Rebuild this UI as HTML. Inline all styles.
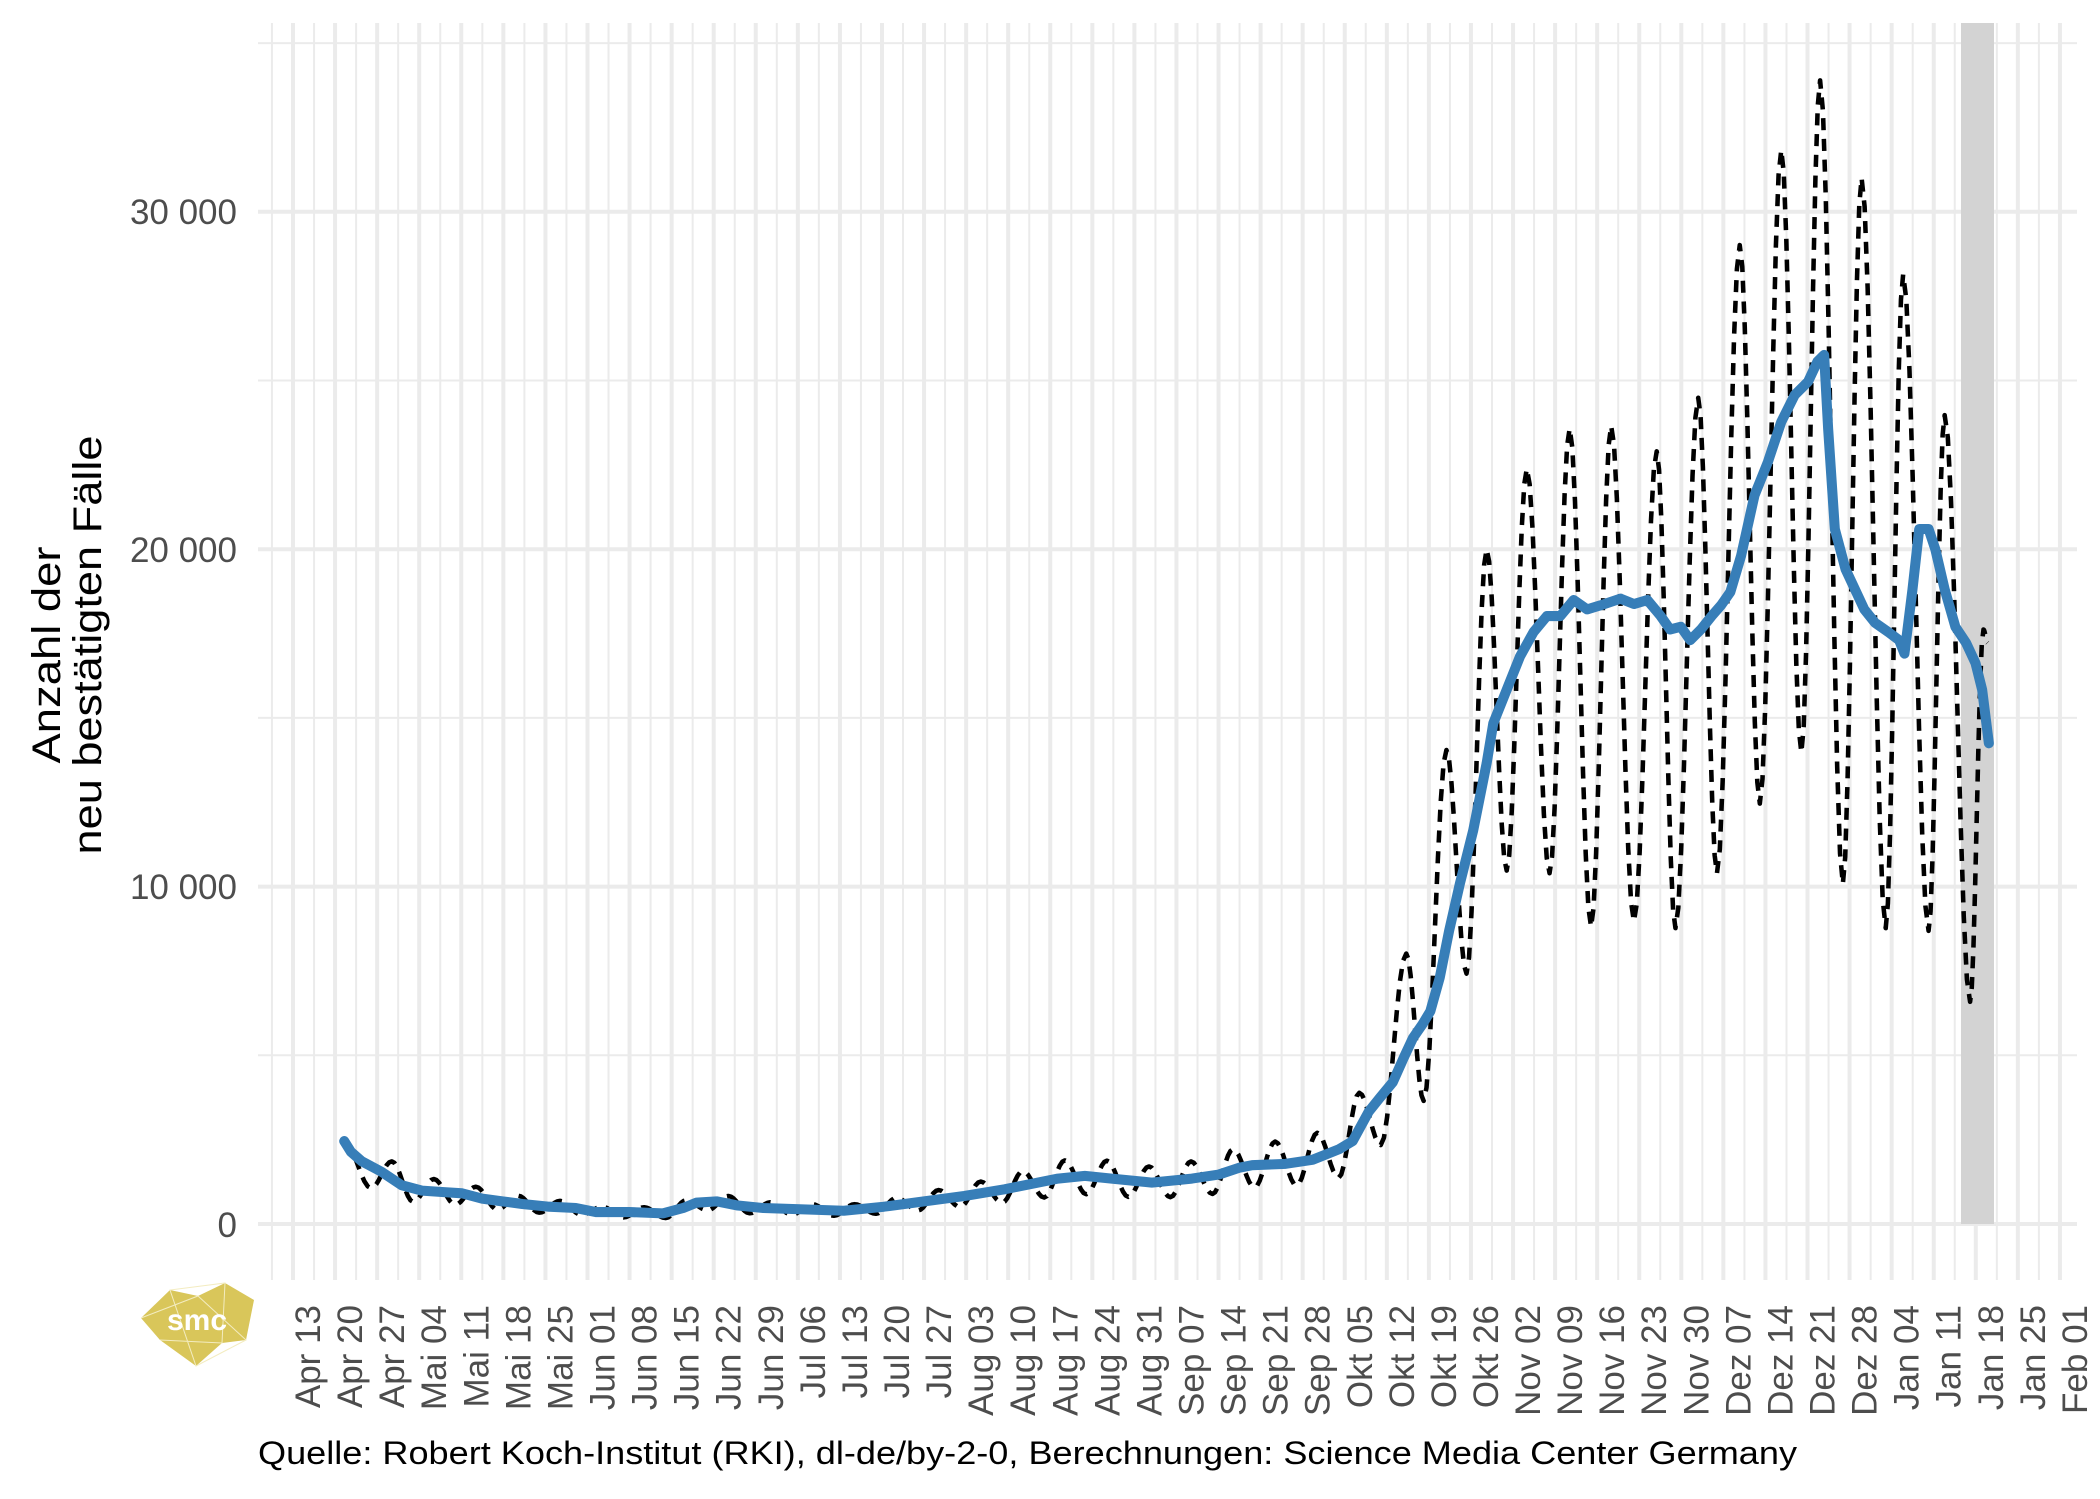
<!DOCTYPE html>
<html><head><meta charset="utf-8"><style>
html,body{margin:0;padding:0;background:#fff;}
svg{display:block;}
</style></head><body>
<svg id="s" xmlns="http://www.w3.org/2000/svg" width="2100" height="1499" viewBox="0 0 2100 1499">
<rect width="2100" height="1499" fill="#fff"/>
<g id="grid"></g>
<rect x="1961" y="23" width="33" height="1201" fill="#d3d3d3"/>
<g transform="scale(1.33929)">
<path id="dash" fill="none" stroke="#000" stroke-width="3.4" stroke-dasharray="9 6.5" stroke-linejoin="round"/>
<path id="blue" fill="none" stroke="#377eb8" stroke-width="7.5" stroke-linejoin="round" stroke-linecap="round"/>
</g>
<g id="labels" font-family="Liberation Sans, sans-serif"></g>
<g font-family="Liberation Sans, sans-serif" font-size="35" fill="#4d4d4d" text-anchor="end">
<text x="237" y="224">30 000</text>
<text x="237" y="899">10 000</text>
<text x="237" y="562">20 000</text>
<text x="237" y="1237">0</text>
</g>
<g font-family="Liberation Sans, sans-serif" font-size="40" fill="#000" text-anchor="middle">
<text transform="translate(60,655) rotate(-90)" textLength="217" lengthAdjust="spacingAndGlyphs">Anzahl der</text>
<text transform="translate(101,645) rotate(-90)" textLength="419" lengthAdjust="spacingAndGlyphs">neu bestätigten Fälle</text>
</g>
<text x="258" y="1464" font-family="Liberation Sans, sans-serif" font-size="32" fill="#000" textLength="1539" lengthAdjust="spacingAndGlyphs">Quelle: Robert Koch-Institut (RKI), dl-de/by-2-0, Berechnungen: Science Media Center Germany</text>
<g>
<polygon points="141,1318 170,1290 198,1296 225,1283 254,1300 246,1340 222,1343 196,1366 160,1340" fill="#d9c65a"/>
<polyline points="141,1318 198,1296 246,1340 196,1366 170,1290 225,1283 222,1343 160,1340" fill="none" stroke="#f3ecc0" stroke-width="1"/>
<text x="197" y="1330" font-family="Liberation Sans, sans-serif" font-size="30" font-weight="bold" fill="#fff" text-anchor="middle">smc</text>
</g>
</svg>
<script>
(function(){
var NS="http://www.w3.org/2000/svg";
var grid=document.getElementById('grid');
function line(x1,y1,x2,y2,w){var l=document.createElementNS(NS,'line');l.setAttribute('x1',x1);l.setAttribute('y1',y1);l.setAttribute('x2',x2);l.setAttribute('y2',y2);l.setAttribute('stroke','#ebebeb');l.setAttribute('stroke-width',w);grid.appendChild(l);}
var y0=1224,k=0.03374;
[5000,15000,25000,35000].forEach(function(v){var y=y0-v*k;line(258,y,2077,y,2);});
[0,10000,20000,30000].forEach(function(v){var y=y0-v*k;line(258,y,2077,y,4);});
var sp=42.07,x0=293;
for(var i=-1;i<42;i++){var x=x0+sp*(i+0.5);if(x>258&&x<2077)line(x,23,x,1280,2);}
for(var i=0;i<=42;i++){var x=x0+sp*i;line(x,23,x,1280,4);}
var labs=["Apr 13","Apr 20","Apr 27","Mai 04","Mai 11","Mai 18","Mai 25","Jun 01","Jun 08","Jun 15","Jun 22","Jun 29","Jul 06","Jul 13","Jul 20","Jul 27","Aug 03","Aug 10","Aug 17","Aug 24","Aug 31","Sep 07","Sep 14","Sep 21","Sep 28","Okt 05","Okt 12","Okt 19","Okt 26","Nov 02","Nov 09","Nov 16","Nov 23","Nov 30","Dez 07","Dez 14","Dez 21","Dez 28","Jan 04","Jan 11","Jan 18","Jan 25","Feb 01"];
var lg=document.getElementById('labels');
labs.forEach(function(s,i){var t=document.createElementNS(NS,'text');var x=x0+sp*i+27;t.setAttribute('transform','translate('+x.toFixed(1)+',1305) rotate(-90)');t.setAttribute('text-anchor','end');t.setAttribute('font-size','35');t.setAttribute('fill','#4d4d4d');t.textContent=s;lg.appendChild(t);});
var B=[[257,852],[262,860],[270,867],[285,875],[300,885],[315,889],[330,890],[345,891],[360,895],[375,897],[390,899],[410,901],[430,902],[445,905],[470,905],[495,906],[510,902],[520,898],[535,897],[550,900],[570,902],[600,903],[630,904],[660,901],[690,897],[720,893],[750,888],[770,884],[790,880],[810,878],[830,880],[860,883],[890,880],[910,877],[925,872],[935,870],[960,869],[980,866],[1000,858],[1010,852],[1022,830],[1030,820],[1040,808],[1048,790],[1055,775],[1062,765],[1068,755],[1075,730],[1082,695],[1090,660],[1100,620],[1110,570],[1115,540],[1125,515],[1135,490],[1145,472],[1155,460],[1165,460],[1175,448],[1185,455],[1195,452],[1210,447],[1220,451],[1230,448],[1240,460],[1247,470],[1255,468],[1262,478],[1270,470],[1278,460],[1285,452],[1292,442],[1300,415],[1310,370],[1320,345],[1330,315],[1340,295],[1350,285],[1357,270],[1362,265],[1365,320],[1370,395],[1378,425],[1385,440],[1392,455],[1400,465],[1410,472],[1418,478],[1422,488],[1428,440],[1433,395],[1440,395],[1445,410],[1452,440],[1460,468],[1468,480],[1475,495],[1480,515],[1485,555]];
document.getElementById('blue').setAttribute('d','M'+B.map(function(p){return p[0]+','+p[1];}).join(' L'));
function bl(x){for(var i=1;i<B.length;i++){if(B[i][0]>=x){var a=B[i-1],b=B[i];var t=(x-a[0])/(b[0]-a[0]);return a[1]+t*(b[1]-a[1]);}}return B[B.length-1][1];}
var E=[[257,852]];
var ex=[];
for(var j=-40;j<=0;j++){var p=1172+31.41*j,t=1188+31.41*j;if(p>262&&p<1040)ex.push([p,-1]);if(t>262&&t<1040)ex.push([t,1]);}
ex.sort(function(a,b){return a[0]-b[0];});
ex.forEach(function(e){var b=bl(e[0]);var amp=Math.max(4,(913.9-b)*0.38);var y=b+e[1]*amp;if(y>914)y=914;E.push([e[0],y]);});
var H=[[1050,712],[1063,822],[1080,560],[1095,727],[1110,410],[1125,650],[1140,350],[1157,652],[1172,320],[1188,692],[1203,318],[1220,688],[1237,337],[1251,693],[1268,297],[1282,652],[1299,183],[1314,600],[1330,112],[1345,562],[1359,60],[1376,660],[1390,133],[1408,693],[1421,205],[1440,695],[1452,310],[1471,748],[1481,470],[1484,480]];
E=E.concat(H);
var d='M'+E[0][0]+','+E[0][1];
for(var i=1;i<E.length;i++){var a=E[i-1],b=E[i];for(var s=1;s<=8;s++){var t=s/8;var f=(1-Math.cos(Math.PI*t))/2;d+=' L'+(a[0]+(b[0]-a[0])*t).toFixed(2)+','+(a[1]+(b[1]-a[1])*f).toFixed(2);}}
document.getElementById('dash').setAttribute('d',d);
})();
</script>
</body></html>
